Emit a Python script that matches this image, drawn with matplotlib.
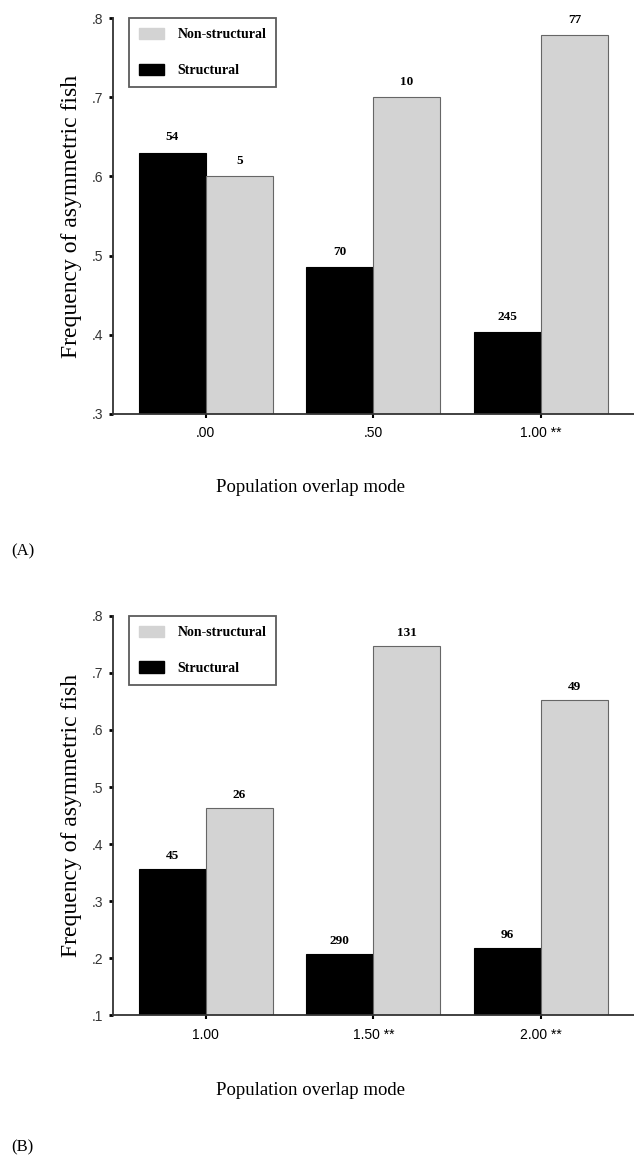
import numpy as np
import matplotlib.pyplot as plt
from matplotlib.patches import Patch

# panel A
cats_a = [".00", ".50", "1.00 **"]
struct_a = [0.630, 0.485, 0.403]
nonstruct_a = [0.600, 0.700, 0.778]
n_struct_a = ["54", "70", "245"]
n_nonstruct_a = ["5", "10", "77"]
yticks_a = [0.3, 0.4, 0.5, 0.6, 0.7, 0.8]
ylabels_a = [".3", ".4", ".5", ".6", ".7", ".8"]

# panel B
cats_b = ["1.00", "1.50 **", "2.00 **"]
struct_b = [0.356, 0.207, 0.218]
nonstruct_b = [0.463, 0.747, 0.653]
n_struct_b = ["45", "290", "96"]
n_nonstruct_b = ["26", "131", "49"]
yticks_b = [0.1, 0.2, 0.3, 0.4, 0.5, 0.6, 0.7, 0.8]
ylabels_b = [".1", ".2", ".3", ".4", ".5", ".6", ".7", ".8"]

serif = "Liberation Serif"
sans = "Liberation Sans"
gray = "#d3d3d3"
w = 0.4

fig = plt.figure(figsize=(6.34, 11.66), dpi=100)


def draw_panel(rect, cats, s_vals, ns_vals, s_n, ns_n, yticks, ylabels, tag, tag_y, xlab_y):
    ax = fig.add_axes(rect)
    x = np.arange(len(cats))
    bs = ax.bar(x - w / 2, s_vals, w, color="black", edgecolor="black", lw=0.8,
                zorder=2)
    bn = ax.bar(x + w / 2, ns_vals, w, color=gray, edgecolor="#666666", lw=0.8,
                zorder=2)
    for b, t in zip(list(bs) + list(bn), s_n + ns_n):
        ax.text(b.get_x() + b.get_width() / 2, b.get_height() + 0.012, t,
                ha="center", va="bottom", family=serif, weight="bold", fontsize=9.5)
    ax.set_ylim(yticks[0], yticks[-1])
    ax.set_xlim(-0.555, 2.555)
    ax.set_yticks(yticks)
    ax.set_yticklabels(ylabels, family=sans, fontsize=10, color="#333333")
    ax.set_xticks(x)
    ax.set_xticklabels(cats, family=sans, fontsize=10)
    ax.tick_params(axis="y", length=3, width=2, pad=4)
    ax.tick_params(axis="x", length=3, width=1.5, pad=6)
    for sp in ["top", "right"]:
        ax.spines[sp].set_visible(False)
    for sp in ["left", "bottom"]:
        ax.spines[sp].set_linewidth(1.3)
        ax.spines[sp].set_color("#333333")
    ax.set_ylabel("Frequency of asymmetric fish", family=serif, fontsize=17, labelpad=7)
    fig.text(0.49, xlab_y, "Population overlap mode", family=serif, fontsize=13.5,
             ha="center", va="center")
    fig.text(0.018, tag_y, tag, family=serif, fontsize=12, ha="left", va="center")
    handles = [Patch(facecolor=gray, edgecolor=gray, label="Non-structural"),
               Patch(facecolor="black", edgecolor="black", label="Structural")]
    leg = ax.legend(handles=handles, loc="upper left", bbox_to_anchor=(0.031, 1.0),
                    borderaxespad=0,
                    prop={"family": serif, "weight": "bold", "size": 10},
                    frameon=True, fancybox=False, edgecolor="#333333",
                    handlelength=1.8, handleheight=0.9, handletextpad=1.0,
                    labelspacing=1.6, borderpad=0.7)
    leg.get_frame().set_linewidth(1.3)
    return ax


draw_panel([0.178, 0.645, 0.822, 0.3395], cats_a, struct_a, nonstruct_a,
           n_struct_a, n_nonstruct_a, yticks_a, ylabels_a, "(A)", 0.527, 0.582)
draw_panel([0.178, 0.1295, 0.822, 0.3422], cats_b, struct_b, nonstruct_b,
           n_struct_b, n_nonstruct_b, yticks_b, ylabels_b, "(B)", 0.016, 0.065)

fig.savefig("out.png", dpi=100, facecolor="white")
